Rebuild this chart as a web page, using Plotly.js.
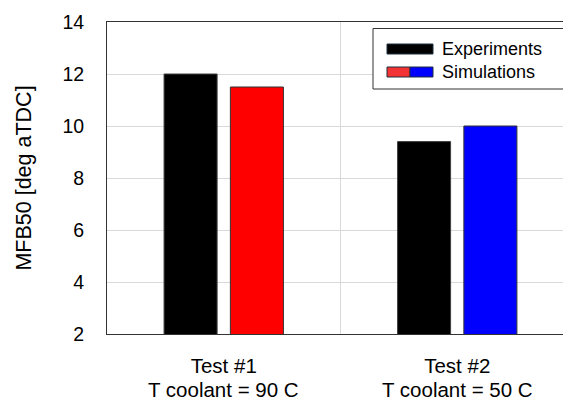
<!DOCTYPE html>
<html>
<head>
<meta charset="utf-8">
<script src="https://cdn.plot.ly/plotly-3.0.1.min.js"></script>
<style>
html, body { margin: 0; padding: 0; background: #fff; }
#chart { width: 563px; height: 401px; }
</style>
</head>
<body>
<div id="chart"></div>
<script>
// ---- data ----
const testNames = ['Test #1', 'Test #2'];
const coolantLabels = ['T coolant = 90 C', 'T coolant = 50 C'];
const positions = [0, 1];
const experiments = [12, 9.4];
const simulations = [11.5, 10];
const yTicks = [2, 4, 6, 8, 10, 12, 14];
const legendLabels = ['Experiments', 'Simulations'];

// ---- styles ----
const simColors = ['#ff0000', '#0000ff'];
const FONT = 'Liberation Sans, Arial, sans-serif';

// plot area in px: x 107..563, y 22..334
const L = 107, R = 563, T = 22, B = 334;
const px = x => (x - L) / (R - L);
const py = y => (B - y) / (B - T);

const traces = [
  {
    type: 'bar', x: positions, y: experiments, name: legendLabels[0],
    marker: { color: '#000000', line: { color: '#404040', width: 1 } },
    hoverinfo: 'y'
  },
  {
    type: 'bar', x: positions, y: simulations, name: legendLabels[1],
    marker: { color: simColors, line: { color: '#333333', width: 1 } },
    hoverinfo: 'y'
  }
];

const shapes = [
  // vertical gridline between categories
  { type: 'line', xref: 'x', yref: 'paper', x0: 0.5, x1: 0.5, y0: 0, y1: 1,
    line: { color: '#d9d9d9', width: 1 }, layer: 'below' },
  // legend box
  { type: 'rect', xref: 'paper', yref: 'paper', x0: px(373), x1: px(580), y0: py(89), y1: py(28.5),
    fillcolor: '#ffffff', line: { color: '#333333', width: 1 } },
  // experiments patch
  { type: 'rect', xref: 'paper', yref: 'paper', x0: px(387), x1: px(433), y0: py(54), y1: py(44),
    fillcolor: '#000000', line: { color: '#1f2f3f', width: 1 } },
  // simulations patch (red + blue)
  { type: 'rect', xref: 'paper', yref: 'paper', x0: px(387), x1: px(410), y0: py(77), y1: py(67),
    fillcolor: '#f33333', line: { color: '#1f2f3f', width: 1 } },
  { type: 'rect', xref: 'paper', yref: 'paper', x0: px(410), x1: px(433), y0: py(77), y1: py(67),
    fillcolor: '#0000ff', line: { color: '#1f2f3f', width: 1 } }
];

const annotations = [
  { xref: 'paper', yref: 'paper', x: px(440), y: py(49), xanchor: 'left', yanchor: 'middle',
    text: legendLabels[0], showarrow: false, font: { family: FONT, size: 18, color: '#000' } },
  { xref: 'paper', yref: 'paper', x: px(440), y: py(72), xanchor: 'left', yanchor: 'middle',
    text: legendLabels[1], showarrow: false, font: { family: FONT, size: 18, color: '#000' } }
].concat(coolantLabels.map((t, i) => ({
  xref: 'x', yref: 'paper', x: positions[i], y: py(389.5), xanchor: 'center', yanchor: 'middle',
  text: t, showarrow: false, borderpad: 0, font: { family: FONT, size: 20.5, color: '#000' }
})));

const layout = {
  width: 563, height: 401,
  margin: { l: L, r: 563 - R, t: T, b: 401 - B, pad: 0 },
  paper_bgcolor: '#ffffff', plot_bgcolor: '#ffffff',
  font: { family: FONT, size: 19.5, color: '#000' },
  showlegend: false,
  barmode: 'group', bargap: 0.432, bargroupgap: 0.2,
  xaxis: {
    range: [-0.5, 1.453], tickvals: positions, ticktext: testNames,
    showgrid: false, zeroline: false, showline: true, mirror: true,
    linecolor: '#333333', linewidth: 1, ticks: '', ticklabelstandoff: 13,
    tickfont: { family: FONT, size: 20.5, color: '#000' }, fixedrange: true
  },
  yaxis: {
    range: [2, 14], tickvals: yTicks, showgrid: true, gridcolor: '#d9d9d9', gridwidth: 1,
    zeroline: false, showline: true, linecolor: '#333333', linewidth: 1, ticks: '',
    ticklabelstandoff: 18,
    tickfont: { family: FONT, size: 19.5, color: '#000' },
    title: { text: 'MFB50 [deg aTDC]', font: { family: FONT, size: 21.5, color: '#000' }, standoff: 24 },
    fixedrange: true
  },
  shapes: shapes,
  annotations: annotations
};

Plotly.newPlot('chart', traces, layout, { displayModeBar: false, staticPlot: true });
</script>
</body>
</html>
